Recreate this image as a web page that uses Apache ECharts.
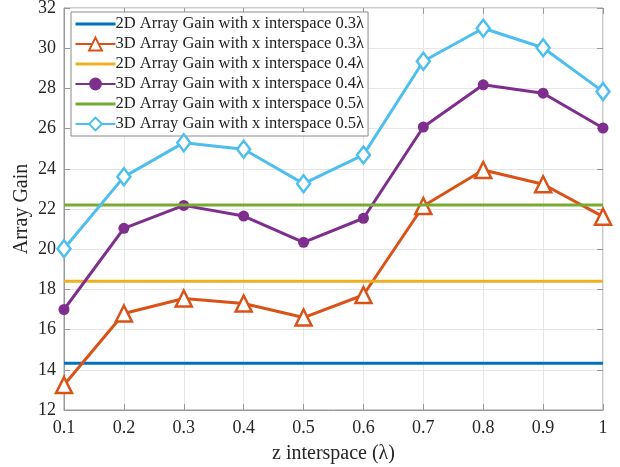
<!DOCTYPE html>
<html><head><meta charset="utf-8">
<script src="https://cdn.jsdelivr.net/npm/echarts@6/dist/echarts.min.js"></script>
<style>html,body{margin:0;padding:0;background:#fff}#c{width:620px;height:467px}</style>
</head><body><div id="c"></div>
<script>
const categories = ['0.1','0.2','0.3','0.4','0.5','0.6','0.7','0.8','0.9','1'];
const gain2D_03 = 14.32;
const gain2D_04 = 18.4;
const gain2D_05 = 22.2;
const gain3D_03 = [13.24, 16.8, 17.55, 17.3, 16.6, 17.72, 22.15, 23.94, 23.23, 21.62];
const gain3D_04 = [17.0, 21.04, 22.18, 21.65, 20.34, 21.54, 26.08, 28.18, 27.76, 26.03];
const gain3D_05 = [20.02, 23.6, 25.3, 24.97, 23.26, 24.69, 29.35, 30.99, 30.02, 27.84];
const yTicks = {min: 12, max: 32, interval: 2};
const names = [
  '2D Array Gain with x interspace 0.3λ',
  '3D Array Gain with x interspace 0.3λ',
  '2D Array Gain with x interspace 0.4λ',
  '3D Array Gain with x interspace 0.4λ',
  '2D Array Gain with x interspace 0.5λ',
  '3D Array Gain with x interspace 0.5λ'
];
const colors = ['#0072BD','#D95319','#EDB120','#7E2F8E','#77AC30','#4DBEEE'];
const font = 'Liberation Serif';
const flat = v => categories.map(() => v);
function lineS(i, data, symbol, size, filled) {
  return {
    name: names[i], type: 'line', data: data,
    symbol: symbol, symbolSize: size, showSymbol: symbol !== 'none',
    lineStyle: {color: colors[i], width: 3},
    itemStyle: filled ? {color: colors[i]} : {color: '#fff', borderColor: colors[i], borderWidth: 2.5},
    z: 2 + i
  };
}
const chart = echarts.init(document.getElementById('c'));
chart.setOption({
  animation: false,
  color: colors,
  grid: {left: 64, right: 17, top: 8, bottom: 57, show: true, borderColor: '#9a9a9a', borderWidth: 1,
         containLabel: false, outerBoundsMode: 'none'},
  legend: {
    orient: 'vertical', left: 71, top: 12,
    backgroundColor: '#fff', borderColor: '#8a8a8a', borderWidth: 1,
    padding: [2, 4, 2, 3], itemGap: 0, itemWidth: 40, itemHeight: 16,
    textStyle: {fontFamily: font, fontSize: 16.5, lineHeight: 20, color: '#222', padding: [0,0,0,-5]},
    data: names.map((n, i) => i % 2 === 0
      ? {name: n, itemStyle: {opacity: 0}, lineStyle: {color: colors[i], width: 3}}
      : {name: n})
  },
  xAxis: [{
    type: 'category', data: categories, boundaryGap: false,
    axisLine: {lineStyle: {color: '#9a9a9a'}},
    axisTick: {inside: true, length: 6, lineStyle: {color: '#9a9a9a'}},
    axisLabel: {fontFamily: font, fontSize: 18, color: '#262626', margin: 9},
    splitLine: {show: true, lineStyle: {color: '#e6e6e6'}},
    name: 'z interspace (λ)', nameLocation: 'middle', nameGap: 34,
    nameTextStyle: {fontFamily: font, fontSize: 20, color: '#262626'}
  }, {
    type: 'category', data: categories, boundaryGap: false, position: 'top',
    axisLine: {show: false}, axisLabel: {show: false},
    axisTick: {inside: true, length: 6, lineStyle: {color: '#9a9a9a'}}
  }],
  yAxis: [{
    type: 'value', min: yTicks.min, max: yTicks.max, interval: yTicks.interval,
    axisLine: {show: true, lineStyle: {color: '#9a9a9a'}},
    axisTick: {show: true, inside: true, length: 6, lineStyle: {color: '#9a9a9a'}},
    axisLabel: {fontFamily: font, fontSize: 18, color: '#262626', margin: 8},
    splitLine: {show: true, lineStyle: {color: '#e6e6e6'}},
    name: 'Array Gain', nameLocation: 'middle', nameGap: 32, nameMoveOverlap: false,
    nameTextStyle: {fontFamily: font, fontSize: 20, color: '#262626'}
  }, {
    type: 'value', min: yTicks.min, max: yTicks.max, interval: yTicks.interval, position: 'right',
    axisLine: {show: false}, axisLabel: {show: false}, splitLine: {show: false},
    axisTick: {show: true, inside: true, length: 6, lineStyle: {color: '#9a9a9a'}}
  }],
  series: [
    lineS(0, flat(gain2D_03), 'none', 0, true),
    lineS(1, gain3D_03, 'triangle', 16, false),
    lineS(2, flat(gain2D_04), 'none', 0, true),
    lineS(3, gain3D_04, 'circle', 11, true),
    lineS(4, flat(gain2D_05), 'none', 0, true),
    lineS(5, gain3D_05, 'diamond', [13, 17], false)
  ]
});
</script></body></html>
